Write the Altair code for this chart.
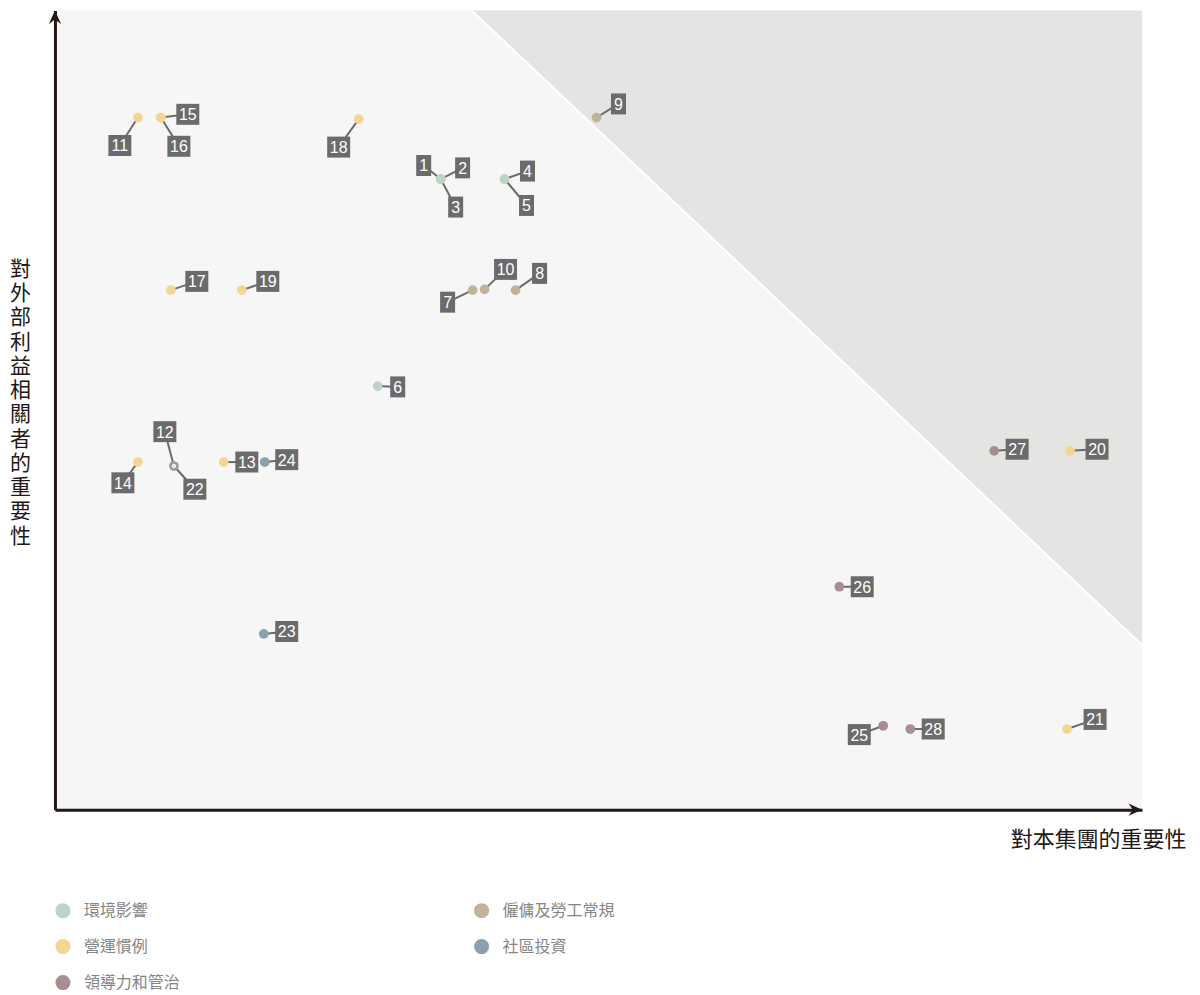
import altair as alt
import pandas as pd

# ---------------- data ----------------
# legend is laid out column by column (3 rows in first column)
categories = ["環境影響", "營運慣例", "領導力和管治", "僱傭及勞工常規", "社區投資"]
colors = ["#bdd3c4", "#f3d594", "#a98d90", "#bfb399", "#8ba0ad"]

ids = list(range(1, 29))
cats = ["環境影響"] * 6 + ["僱傭及勞工常規"] * 4 + ["營運慣例"] * 11 + ["社區投資"] * 3 + ["領導力和管治"] * 4
# point positions (importance to group, importance to stakeholders)
px = [3.548, 3.548, 3.548, 4.136, 4.136, 2.969,
      3.842, 4.237, 4.982, 3.952,
      0.763, 1.094, 1.553, 0.763, 0.974, 0.974, 1.066, 2.794, 1.719, 9.338, 9.311,
      1.094, 1.921, 1.930,
      7.619, 7.215, 8.640, 7.868]
py = [7.89, 7.89, 7.89, 7.89, 7.89, 5.30,
      6.50, 6.50, 8.66, 6.51,
      8.66, 4.30, 4.35, 4.35, 8.66, 8.66, 6.50, 8.64, 6.50, 4.49, 1.01,
      4.30, 2.20, 4.35,
      1.05, 2.79, 4.49, 1.01]
# label box positions
lx = [3.392, 3.750, 3.686, 4.347, 4.338, 3.153,
      3.612, 4.458, 5.184, 4.145,
      0.597, 1.011, 1.765, 0.625, 1.222, 1.140, 1.305, 2.610, 1.958, 9.586, 9.568,
      1.287, 2.132, 2.132,
      7.399, 7.426, 8.851, 8.079]
ly = [8.06, 8.03, 7.54, 7.99, 7.56, 5.29,
      6.35, 6.71, 8.83, 6.76,
      8.31, 4.73, 4.35, 4.09, 8.70, 8.30, 6.61, 8.29, 6.61, 4.51, 1.13,
      4.01, 2.23, 4.38,
      0.94, 2.79, 4.51, 1.01]

x_domain = [0, 10]
y_domain = [0, 10]
# threshold region (upper-right triangle)
tri_x = [3.833, 10]
tri_y = [10, 2.06]

x_title = "對本集團的重要性"
y_title = "對外部利益相關者的重要性"

# ---------------- tables ----------------
df = pd.DataFrame({"id": ids, "cat": cats, "x": px, "y": py, "lx": lx, "ly": ly})
df["label"] = df["id"].astype(str)
df["digits"] = df["label"].str.len()

bg = pd.DataFrame({"x": [x_domain[0]], "x2": [x_domain[1]], "y": [y_domain[0]], "y2": [y_domain[1]]})
tri = pd.DataFrame({"x": tri_x, "y": tri_y, "y2": [y_domain[1]] * 2})
arrows = pd.DataFrame({"x": [x_domain[0], x_domain[1]], "y": [y_domain[1], y_domain[0]], "dir": ["up", "right"]})

xs = alt.Scale(domain=x_domain, nice=False, zero=False)
ys = alt.Scale(domain=y_domain, nice=False, zero=False)
color_scale = alt.Scale(domain=categories, range=colors)

AXIS_COLOR = "#231815"
BOX = "#6b6b6b"
CJK = "Noto Sans CJK TC"

x_axis = alt.Axis(labels=False, ticks=False, grid=False, domain=True, domainColor=AXIS_COLOR,
                  domainWidth=3, zindex=1, title=x_title, titleFont=CJK, titleFontSize=22,
                  titleFontWeight="normal", titleColor=AXIS_COLOR, titleAngle=0,
                  titleAlign="right", titleBaseline="middle", titleX=1132, titleY=30)
y_axis = alt.Axis(labels=False, ticks=False, grid=False, domain=True, domainColor=AXIS_COLOR,
                  domainWidth=3, zindex=1, title=list(y_title), titleFont=CJK, titleFontSize=21,
                  titleFontWeight="normal", titleColor=AXIS_COLOR, titleAngle=0,
                  titleAlign="center", titleBaseline="top", titleLineHeight=24.3,
                  titleX=-35, titleY=248)

background = alt.Chart(bg).mark_rect(color="#f6f6f6").encode(
    x=alt.X("x:Q", scale=xs, axis=x_axis), x2="x2:Q",
    y=alt.Y("y:Q", scale=ys, axis=y_axis), y2="y2:Q")

triangle = alt.Chart(tri).mark_area(color="#e4e5e3", opacity=1).encode(
    x=alt.X("x:Q", scale=xs), y=alt.Y("y:Q", scale=ys), y2="y2:Q")

diag = alt.Chart(tri).mark_line(color="white", strokeWidth=2).encode(
    x=alt.X("x:Q", scale=xs), y=alt.Y("y:Q", scale=ys))

leaders = alt.Chart(df).mark_rule(color=BOX, strokeWidth=2).encode(
    x=alt.X("x:Q", scale=xs), y=alt.Y("y:Q", scale=ys), x2="lx:Q", y2="ly:Q")

box1 = alt.Chart(df).transform_filter("datum.digits == 1").mark_rect(
    color=BOX, width=15, height=21).encode(x=alt.X("lx:Q", scale=xs), y=alt.Y("ly:Q", scale=ys))
box2 = alt.Chart(df).transform_filter("datum.digits == 2").mark_rect(
    color=BOX, width=23, height=21).encode(x=alt.X("lx:Q", scale=xs), y=alt.Y("ly:Q", scale=ys))

texts = alt.Chart(df).mark_text(color="white", font="Liberation Sans", fontSize=16,
                                align="center", baseline="middle", dy=1).encode(
    x=alt.X("lx:Q", scale=xs), y=alt.Y("ly:Q", scale=ys), text="label:N")

points = alt.Chart(df).transform_filter("datum.id != 12").mark_circle(size=95, opacity=1).encode(
    x=alt.X("x:Q", scale=xs), y=alt.Y("y:Q", scale=ys),
    color=alt.Color("cat:N", scale=color_scale, sort=categories,
                    legend=alt.Legend(title=None, orient="none", legendX=0, legendY=893,
                                      columns=2, columnPadding=293, rowPadding=20,
                                      symbolType="circle", symbolSize=227,
                                      symbolStrokeWidth=0, labelFont=CJK, labelFontSize=16,
                                      labelColor="#858585", labelOffset=13, padding=0)))

inner = alt.Chart(df).transform_filter("datum.id == 12").mark_circle(
    size=12, opacity=1, stroke="white", strokeWidth=1).encode(
    x=alt.X("x:Q", scale=xs), y=alt.Y("y:Q", scale=ys),
    color=alt.Color("cat:N", scale=color_scale, legend=None))

up_arrow = alt.Chart(arrows).transform_filter("datum.dir == 'up'").mark_point(
    shape="M0,0L1,2.2L0,1.5L-1,2.2Z", filled=True, fill=AXIS_COLOR, size=150, opacity=1,
    strokeWidth=0).encode(x=alt.X("x:Q", scale=xs), y=alt.Y("y:Q", scale=ys))
right_arrow = alt.Chart(arrows).transform_filter("datum.dir == 'right'").mark_point(
    shape="M0,0L-2.2,-1L-1.5,0L-2.2,1Z", filled=True, fill=AXIS_COLOR, size=150, opacity=1,
    strokeWidth=0).encode(x=alt.X("x:Q", scale=xs), y=alt.Y("y:Q", scale=ys))

chart = alt.layer(background, triangle, diag, leaders, box1, box2, texts, points, inner,
                  up_arrow, right_arrow).properties(
    width=1088, height=800,
    autosize=alt.AutoSizeParams(type="none"),
    padding={"left": 47, "top": 2, "right": 50, "bottom": 185},
).configure_view(strokeWidth=0)

chart.save("out.html", embed_options={"renderer": "svg", "actions": False})
